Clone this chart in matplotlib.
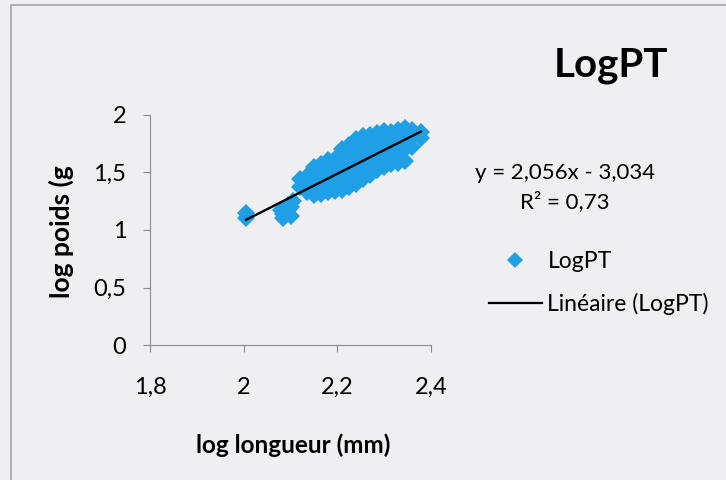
import numpy as np
import matplotlib
matplotlib.use("Agg")
import matplotlib.pyplot as plt
from matplotlib.patches import Rectangle
from matplotlib.lines import Line2D

plt.rcParams["font.family"] = ["Lato", "DejaVu Sans"]

# points (log length, log weight)
LOG_L = [2.005, 2.005,
         2.08, 2.085, 2.085, 2.09, 2.095, 2.095, 2.10, 2.10, 2.105,
         2.12, 2.12,
         2.135, 2.135, 2.135,
         2.15, 2.15, 2.15, 2.15,
         2.165, 2.165, 2.165, 2.165,
         2.18, 2.18, 2.18, 2.18,
         2.195, 2.195, 2.195, 2.195,
         2.21, 2.21, 2.21, 2.21, 2.21,
         2.225, 2.225, 2.225, 2.225, 2.225,
         2.24, 2.24, 2.24, 2.24, 2.24,
         2.255, 2.255, 2.255, 2.255, 2.255,
         2.27, 2.27, 2.27, 2.27, 2.27,
         2.285, 2.285, 2.285, 2.285, 2.285,
         2.30, 2.30, 2.30, 2.30, 2.30,
         2.315, 2.315, 2.315, 2.315,
         2.33, 2.33, 2.33, 2.33,
         2.345, 2.345, 2.345, 2.345,
         2.36, 2.36, 2.36,
         2.378, 2.378]
LOG_P = [1.10, 1.15,
         1.17, 1.10, 1.14, 1.19, 1.17, 1.22, 1.12, 1.20, 1.25,
         1.37, 1.44,
         1.33, 1.40, 1.47,
         1.30, 1.38, 1.46, 1.55,
         1.31, 1.40, 1.50, 1.57,
         1.33, 1.42, 1.52, 1.61,
         1.34, 1.43, 1.52, 1.62,
         1.35, 1.45, 1.55, 1.65, 1.70,
         1.37, 1.46, 1.56, 1.66, 1.74,
         1.40, 1.50, 1.60, 1.70, 1.79,
         1.44, 1.53, 1.63, 1.73, 1.82,
         1.48, 1.57, 1.66, 1.75, 1.83,
         1.52, 1.60, 1.70, 1.78, 1.84,
         1.55, 1.64, 1.73, 1.81, 1.86,
         1.57, 1.66, 1.76, 1.85,
         1.58, 1.68, 1.78, 1.87,
         1.60, 1.70, 1.80, 1.89,
         1.72, 1.80, 1.87,
         1.80, 1.85]
SLOPE, INTERCEPT = 2.056, -3.034
XTICKS = [1.8, 2.0, 2.2, 2.4]
YTICKS = [0, 0.5, 1, 1.5, 2]
XTICKLABELS = ["1,8", "2", "2,2", "2,4"]
YTICKLABELS = ["0", "0,5", "1", "1,5", "2"]

BG = "#efeff1"
BLUE = "#1fa0e6"
GREY = "#8a8a94"

fig = plt.figure(figsize=(7.26, 4.8), dpi=100, facecolor=BG)
fig.patches.append(Rectangle((11 / 726, -0.1), 1.2, 1 - 5 / 480 + 0.1,
                             transform=fig.transFigure, fill=False,
                             edgecolor="#a4a4ac", linewidth=1.2))

ax = fig.add_axes([150 / 726, 1 - 345 / 480, 281 / 726, 230 / 480])
ax.set_facecolor(BG)

ax.plot(LOG_L, LOG_P, linestyle="none", marker="D", markersize=9.3,
        color=BLUE, markeredgewidth=0)
xf = np.array([min(LOG_L), max(LOG_L)])
ax.plot(xf, SLOPE * xf + INTERCEPT, color="black", linewidth=1.7)

ax.set_xlim(1.8, 2.4)
ax.set_ylim(0, 2)
ax.set_xticks(XTICKS)
ax.set_xticklabels(XTICKLABELS)
ax.set_yticks(YTICKS)
ax.set_yticklabels(YTICKLABELS)
for s in ["top", "right"]:
    ax.spines[s].set_visible(False)
for s in ["left", "bottom"]:
    ax.spines[s].set_color(GREY)
ax.tick_params(axis="both", direction="out", length=5, color=GREY, labelsize=17)
ax.tick_params(axis="x", pad=18)
ax.tick_params(axis="y", pad=12)

ax.set_xlabel("log longueur (mm)", fontsize=17.5, fontweight="bold")
ax.set_ylabel("log poids (g", fontsize=19, fontweight="bold")
ax.xaxis.set_label_coords(293 / 726, 1 - 433 / 480, transform=fig.transFigure)
ax.yaxis.set_label_coords(74 / 726, 1 - 232 / 480, transform=fig.transFigure)

fig.text(611 / 726, 1 - 66 / 480, "LogPT", fontsize=29, fontweight="bold",
         ha="center", va="center")
fig.text(565 / 726, 1 - 173 / 480, "y = 2,056x - 3,034", fontsize=16,
         ha="center", va="center")
fig.text(565 / 726, 1 - 202 / 480, "R² = 0,73", fontsize=16,
         ha="center", va="center")

handles = [Line2D([], [], linestyle="none", marker="D", markersize=8.3,
                  color=BLUE, markeredgewidth=0),
           Line2D([], [], color="black", linewidth=1.6)]
fig.legend(handles, ["LogPT", "Linéaire (LogPT)"], loc="center left",
           bbox_to_anchor=(489 / 726, 1 - 283 / 480), frameon=False,
           fontsize=16.5, handlelength=2.3, handletextpad=0.25, labelspacing=0.95,
           borderpad=0, borderaxespad=0)

fig.savefig("out.png", dpi=100, facecolor=BG)
